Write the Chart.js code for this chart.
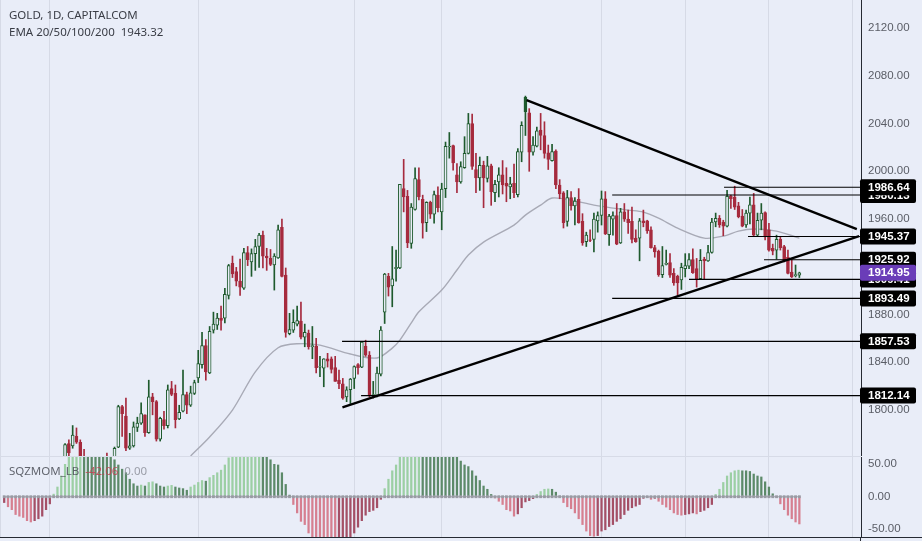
<!DOCTYPE html>
<html>
<head>
<meta charset="utf-8">
<title>GOLD 1D</title>
<script src="https://cdn.jsdelivr.net/npm/chart.js@4"></script>
<style>
  html, body { margin: 0; padding: 0; background: #e9edf8; overflow: hidden; }
  #wrap { position: relative; width: 922px; height: 541px; background: #e9edf8; font-family: "Noto Sans", sans-serif; }
  canvas { position: absolute; left: 0; }
  #priceChart { top: 0; }
  #oscChart { top: 457px; }
  .rule { position: absolute; }
  .legend { position: absolute; left: 9px; font-size: 11.5px; color: #3a3d46; white-space: pre; }
</style>
</head>
<body>
<div id="wrap">
  <canvas id="priceChart" width="922" height="456" style="width:922px;height:456px"></canvas>
  <canvas id="oscChart" width="922" height="81" style="width:922px;height:81px"></canvas>
  <div class="rule" style="left:0;top:456px;width:861px;height:1px;background:#d7dbe7"></div>
  <div class="rule" style="left:0;top:537px;width:922px;height:1px;background:#262a33"></div>
  <div class="rule" style="left:860px;top:537px;width:1px;height:4px;background:#262a33"></div>
  <div class="legend" style="top:7px">GOLD, 1D, CAPITALCOM</div>
  <div class="legend" style="top:24px">EMA 20/50/100/200  1943.32</div>
  <div class="legend" style="top:463px;color:#4a4d56;opacity:.85">SQZMOM_LB  <span style="color:#c0404f">-42.06</span>  <span style="color:#8d909a">0.00</span></div>
</div>
<script>
// Bars 0-209 on a daily axis, candles start at bar 16 (earlier ones sit below the pane)
const firstCandle = 16;
const n = null;

const opens = [
  1760,1772,1770,1778,1773,1760,n,n,n,n,n,1760,n,1760,
  1769,1803,1795,1768,1770,1785.5,1789,1796,1781,1811,
  1807,1775.5,1792,1787,1818,1814,1792.5,1799,1813,1804,
  1814,1827,1838,1854,1831,1867,1871,1877,1877,1896,
  1923,1916,1908,1902,1932,1924,1931,1937,1946.5,1929,
  1927,1921.5,1927.5,1953,1913,1864,1867,1872,1874.5,1861,
  1864.5,1853,1853.5,1836,1835,1843,1843,1835.5,1825,1822,
  1811,1817,1826.5,1838,1836,1853.5,1846,1812,1812.5,1830,
  1882,1912,1904,1918.5,1919,1985.5,1979,1939.5,1968,1993,
  1976.5,1957,1974,1964,1980,1966,1985.5,2020.5,2021.5,1997,
  1991,2003,2015,2040,2001.5,1994.5,2005,1994,2004.5,1982,
  1991,1997,1990,1987,1990,1980.5,2016,2050,2049,2016,
  2021,2034.5,2030,2015.5,2009,2017,1988.5,1982,1958,1978,
  1971,1976.5,1958,1941,1942.5,1943,1958.5,1963,1977,1947,
  1960,1963,1940,1966,1960,1958,1944,1944,1958.5,1958.5,
  1951,1936,1933,1913.5,1922,1923.5,1914.5,1912,1909,1918.5,
  1920.5,1926,1918.5,1910,1926.5,1925,1932,1957.5,1960.5,1957.5,
  1954,1979,1978.5,1971,1962.5,1955,1965,1972,1946.5,1959,
  1965.5,1951,1935.5,1934,1943,1937,1928,1915.5,1912.5,1913
];
const highs = [
  1772,1775,1787,1785,1775,1767,n,n,n,n,n,1764,n,1769,
  1804,1804,1810,1780.5,1790,1794,1806,1796,1825,1814,
  1808,1794,1799,1821,1824,1821,1804,1833.5,1815,1820,
  1825,1850,1865,1859,1870,1882,1881,1887,1902,1922,
  1929,1919.5,1926.5,1935.5,1937,1935,1943,1948,1950,1935.5,
  1934.5,1931,1955,1960,1919,1881,1884,1887,1890.5,1872,
  1867,1870,1860,1845,1843,1847.5,1844.5,1845,1833.5,1826.5,
  1819.5,1826.5,1837,1839,1857.5,1858.5,1849,1824,1836,1870,
  1914.5,1914.5,1937,1934,1989,2010,1984,1973,2003,2003,
  1980,1974.5,1975,1983.5,1987,1990,2024.5,2032.5,2022,2006.5,
  2008,2029,2048.5,2048,2015,2012,2008.5,2012.5,2006,1992.5,
  2003,2009,2003,1995,2006,2019,2041.5,2063,2052.5,2029,
  2037,2048.5,2041.5,2022,2022.5,2018,1993,1983,1984,1983,
  1978,1985.5,1964.5,1949,1951,1965,1966,1983.5,1983,1964,
  1966,1973,1969,1973,1967.5,1970,1951,1960.5,1967.5,1959,
  1953.5,1938,1934,1937,1934,1931,1918.5,1913,1923,1931,
  1931,1935,1927,1934.5,1928,1938,1960.5,1965,1963,1959,
  1984,1980,1987.5,1974,1968,1967.5,1978.5,1981.5,1965,1973,
  1966,1956.5,1939,1946.5,1945.5,1938,1934,1926,1921.5,1915.5
];
const lows = [
  1758,1761,1768,1772,1758,1755,n,n,n,n,n,1755,n,1758,
  1768.5,1778,1766,1767,1769,1782,1788,1778,1780.5,1796,
  1774,1774,1784,1785,1812,1785,1792,1798.5,1797,1803,
  1813,1823,1835,1825,1830.5,1864.5,1867.5,1867,1873,1893,
  1911,1904,1896,1901,1921,1912,1917,1919.5,1919,1917,
  1921,1900.5,1927,1911.5,1861,1863,1865,1870.5,1859.5,1853,
  1851,1843,1831,1828,1819.5,1836,1831,1824,1818,1809,
  1807,1805.5,1818,1830,1835.5,1845,1811,1810,1811,1828.5,
  1872.5,1895.5,1886.5,1908,1918.5,1966,1936,1935.5,1967.5,1976,
  1944,1949.5,1960.5,1956.5,1966,1951,1978,2011,2001,1982,
  1990,2002.5,2014.5,2001.5,1982,1984,1969.5,1991,1971.5,1974.5,
  1978.5,1981,1974.5,1977,1978,1978.5,2008,2030,2000,2013.5,
  2020.5,2018,2011,2001.5,2008.5,1985.5,1977,1952.5,1954,1967.5,
  1955,1956.5,1938,1937,1941,1932.5,1949,1955,1947,1938,
  1946.5,1938.5,1939.5,1958,1948,1940,1940.5,1925,1953.5,1948,
  1935.5,1928,1912,1911,1921.5,1911,1904.5,1896,1901,1911.5,
  1918.5,1914.5,1903,1909.5,1910,1924.5,1931.5,1953.5,1953,1946,
  1953.5,1969,1968,1961,1953.5,1953,1956,1946,1945.5,1951,
  1942.5,1933,1930,1926.5,1934,1924,1914,1911,1911.5,1911
];
const closes = [
  1771,1764,1779,1773,1760,1756,n,n,n,n,n,1756,n,1768,
  1803,1797,1768,1770,1786,1789,1797,1781,1811,1807,
  1775.5,1793,1787,1817,1813,1792,1798,1813,1804,1814.5,
  1823,1839,1854,1832,1866,1872,1877,1875,1897,1921,
  1914,1908,1903,1932,1926,1931,1937,1946.5,1929,1927.5,
  1922,1929,1951,1912,1865,1867.5,1873.5,1875,1861,1865,
  1853,1854,1835.5,1836.5,1843,1841,1834,1824,1822,1810,
  1817,1826,1836.5,1835.5,1857,1846,1812,1813,1831,1867,
  1914,1903,1910,1919.5,1989,1978.5,1940,1970,1994,1978.5,
  1956.5,1974,1964,1980.5,1969.5,1985,2021,2021,2007,1991,
  2004,2015,2040,2004,1994.5,2005,1994.5,2004.5,1983,1989,
  1997,1988.5,1987.5,1989.5,1982,2016.5,2038.5,2062,2016,2022,
  2034,2030,2015,2010,2016.5,1988.5,1981,1957,1978,1971,
  1975,1957,1940,1946.5,1942,1960,1963,1977,1947.5,1962.5,
  1963,1939,1966,1960,1957,1943,1941,1958.5,1957,1950,
  1936,1932.5,1913.5,1921,1923,1913,1906.5,1906.5,1919.5,1921,
  1926,1915,1910,1925.5,1925,1932,1957.5,1960.5,1955,1954,
  1979,1977,1970,1962,1954,1965,1972,1946.5,1959,1965,
  1945,1934,1933,1943,1936,1925,1914.5,1911.5,1913.5,1915
];

const emaBars = [49,54,60,66,72,77,83,91,98,102,104,107,109,115,119,122,126,134,137,141,144,149,155,164,168,172,177,184,189,193,197,203,209];
const emaValues = [1761.5,1777.4,1800,1832,1852.2,1855.5,1854.4,1846.9,1843.6,1851.9,1858.6,1873,1882.3,1900.5,1917.3,1929.8,1940.7,1954.9,1963.3,1971.7,1977.6,1975.9,1971.7,1967.5,1965.8,1960.8,1952.4,1944,1945.7,1949.9,1951.6,1949.9,1944];

// Horizontal levels and where each one starts
const levelPrices = [1986.64, 1980.13, 1945.37, 1925.92, 1909.41, 1893.49, 1857.53, 1812.14];
const levelStarts = [189.2, 159.8, 195.5, 199.7, 180, 159.8, 88.8, 93.8];
const levelTags = [1980.13, 1986.64, 1945.37, 1909.41, 1925.92, 1893.49, 1857.53, 1812.14];
const lastPrice = 1914.95;

const upperTrendBars = [137.3, 224.1];
const upperTrendPrices = [2059.6, 1951.6];
const lowerTrendBars = [88.9, 224.7];
const lowerTrendPrices = [1802.3, 1945.7];

const priceTicks = [1800, 1840, 1880, 1920, 1960, 2000, 2040, 2080, 2120];
const oscTicks = [-50, 0, 50];
const gridBars = [-1, 12, 51, 92, 115, 157, 179, 201, 223];

// Squeeze momentum, bars 0-209. Above about 61 / below about -64 the pane cuts them off
const momentum = [
  -9,-15.5,-20,-27.5,-30,-32,-37,-39,-37,-34,-30,-20,-11,
  4,15,32,50,
  62,66,69,72,71,70,69,68,67,66,65,63,
  57,49,42.5,37,27,20,16.5,18,16.5,22,23,20,16.5,15,16.5,17.5,15,13.5,12.5,10,15,18,22,25,24,29.5,33,37,41,49,60,
  62,64,66,68,70,72,74,76,75,73,
  57,50,49,37,19,2.5,-12,-25,
  -38,-43,-56,-62,-65,-68,-70,-72,-74,-75,-74,-72,-70,-67,
  -56,-47,-37,-28.5,-23,-21,-17,-4,
  12.5,27,40,49,
  62,65,68,71,74,77,76,75,74,73,72,70,68,66,64,62,
  55,49,46.5,40,32,25,16.5,11.5,3.5,-2,-7,-12,-20,-22,-30,-26.5,-17,-8,-6,-3,3.5,8,11.5,12,11.5,7,1,-9,-15.5,-18.5,-25,-34,-43,-53,-60,-61,-60,
  -53,-51,-46,-43,-38,-34,-27.5,-21,-17,-14.5,-12,-2.5,-1.5,-4,-2.5,-7,-12,-16,-20,-25,-27.5,-28.5,-27.5,-26.5,-25,-26.5,-23,-21,-17,-12,
  3.5,11.5,22,32,37,40,41,40,40,39,35,32,30.5,23,15,4.5,-0.5,-11,-20,-28.5,-34,-39,-42
];

const BG = '#e9edf8';
const GREEN = '#1e5a2d';
const RED = '#a62b3e';
const GRID = '#d6dae6';
const AXIS_FONT = { family: '"Liberation Sans", sans-serif', size: 11.5 };
const filledUpBar = 137;   // the top candle is hidden under the trendline start, reads as solid

function toPairs(xs, ys) {
  return xs.map((x, i) => ({ x, y: ys[i] }));
}

// x axis shared by both panes, only there for the vertical grid lines
function barAxis() {
  return {
    type: 'linear',
    min: -1.1,
    max: 225.2,
    offset: false,
    afterBuildTicks: axis => { axis.ticks = gridBars.map(value => ({ value })); },
    afterFit: axis => { axis.height = 0; },
    ticks: { display: false },
    grid: { color: GRID, lineWidth: 1, offset: false, drawTicks: false },
    border: { display: false }
  };
}

function valueAxis(tickValues, min, max) {
  return {
    position: 'right',
    min,
    max,
    afterBuildTicks: axis => { axis.ticks = tickValues.map(value => ({ value })); },
    afterFit: axis => {
      axis.width = 61;
      axis.paddingTop = 0;
      axis.paddingBottom = 0;
    },
    ticks: {
      color: '#5a5d66',
      font: AXIS_FONT,
      padding: 7,
      callback: v => v.toFixed(2)
    },
    grid: { display: false, drawTicks: false },
    border: { color: '#262a33', width: 1 }
  };
}

// Price tags on the right axis
const priceTagPlugin = {
  id: 'priceTags',
  afterDraw(chart) {
    const { ctx, scales } = chart;
    const drawTag = (value, fill) => {
      const y = scales.y.getPixelForValue(value);
      ctx.save();
      ctx.fillStyle = fill;
      ctx.beginPath();
      ctx.roundRect(860, y - 8, 56, 16, 2);
      ctx.fill();
      ctx.fillStyle = '#fff';
      ctx.font = 'bold 11.5px "Liberation Sans", sans-serif';
      ctx.textBaseline = 'middle';
      ctx.fillText(value.toFixed(2), 868, y + 0.5);
      ctx.restore();
    };
    levelTags.forEach(v => drawTag(v, '#000'));
    drawTag(lastPrice, '#6a3db8');
  }
};

function candleDatasets() {
  const wicks = [];
  const bodies = [];
  const bodyFill = [];
  const bodyEdge = [];
  const wickColor = [];
  opens.forEach((open, k) => {
    if (open === null) return;
    const x = firstCandle + k;
    const up = closes[k] >= open;
    wicks.push({ x, y: [lows[k], highs[k]] });
    wickColor.push(up ? GREEN : RED);
    bodies.push({ x, y: [open, closes[k]] });
    bodyEdge.push(up ? GREEN : RED);
    bodyFill.push(up ? (x === filledUpBar ? GREEN : BG) : RED);
  });
  return [
    { type: 'bar', label: 'wicks', data: wicks, backgroundColor: wickColor, barThickness: 1, grouped: false, order: 4 },
    { type: 'bar', label: 'candles', data: bodies, backgroundColor: bodyFill, borderColor: bodyEdge, borderWidth: 1, borderSkipped: false, barThickness: 3, grouped: false, order: 3 }
  ];
}

function lineDataset(label, data, color, width, order, tension) {
  return {
    type: 'line', label, data, borderColor: color, borderWidth: width,
    pointRadius: 0, fill: false, tension: tension || 0, order
  };
}

const priceData = [
  lineDataset('EMA', toPairs(emaBars, emaValues), '#a8aab6', 1.4, 5, 0.3),
  ...candleDatasets(),
  ...levelPrices.map((p, i) => lineDataset('level ' + p, toPairs([levelStarts[i], 225.2], [p, p]), '#000', 1.2, 2)),
  lineDataset('upper trend', toPairs(upperTrendBars, upperTrendPrices), '#000', 2.4, 1),
  lineDataset('lower trend', toPairs(lowerTrendBars, lowerTrendPrices), '#000', 2.4, 1)
];

new Chart(document.getElementById('priceChart'), {
  type: 'bar',
  data: { datasets: priceData },
  plugins: [priceTagPlugin],
  options: {
    responsive: false,
    animation: false,
    layout: { padding: 0, autoPadding: false },
    plugins: { legend: { display: false }, tooltip: { enabled: false } },
    scales: { x: barAxis(), y: valueAxis(priceTicks, 1761.5, 2143.5) }
  }
});

// Histogram colour follows sign and direction, like the squeeze momentum script
function momentumColor(i) {
  const v = momentum[i];
  const prev = i > 0 ? momentum[i - 1] : v;
  if (v >= 0) return v > prev ? '#9ccfa4' : '#5c8a69';
  return v < prev ? '#d67f90' : '#a44f66';
}

new Chart(document.getElementById('oscChart'), {
  type: 'bar',
  data: {
    datasets: [
      {
        type: 'line', label: 'zero', data: momentum.map((v, i) => ({ x: i, y: 0 })),
        borderColor: '#a3a5ae', borderWidth: 1, pointStyle: 'rect', pointRadius: 2,
        pointBackgroundColor: '#999ba4', pointBorderWidth: 0, order: 1
      },
      {
        type: 'bar', label: 'SQZMOM_LB', data: momentum.map((v, i) => ({ x: i, y: v })),
        backgroundColor: momentum.map((v, i) => momentumColor(i)),
        barThickness: 1.6, grouped: false, order: 2
      }
    ]
  },
  options: {
    responsive: false,
    animation: false,
    layout: { padding: 0, autoPadding: false },
    plugins: { legend: { display: false }, tooltip: { enabled: false } },
    scales: { x: barAxis(), y: valueAxis(oscTicks, -63.7, 61.3) }
  }
});
</script>
</body>
</html>
